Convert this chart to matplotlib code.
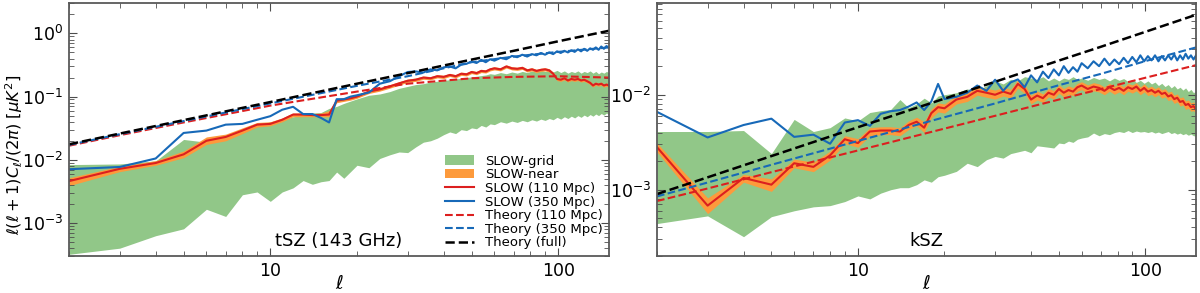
import matplotlib as mpl
mpl.use("Agg")
import matplotlib.pyplot as plt
import numpy as np
from matplotlib.patches import Patch
from matplotlib.lines import Line2D

ell = list(range(2, 21)) + list(range(22, 61, 2)) + list(range(63, 151, 3))
ell_th = [2, 3, 5, 10, 20, 30, 50, 70, 100, 150]

# ---------------- tSZ (143 GHz) ----------------
tsz_grid_lo = [3.2e-4, 4.0e-4, 6.3e-4, 8.1e-4, 1.65e-3, 1.27e-3, 2.8e-3, 3.1e-3, 2.2e-3, 3.1e-3,
               3.6e-3, 4.7e-3, 4.1e-3, 4.5e-3, 4.7e-3, 6.4e-3, 5.1e-3, 6.5e-3, 8.2e-3,
               7.5e-3, 1.05e-2, 1.2e-2, 1.33e-2, 1.3e-2, 1.6e-2, 1.9e-2, 2.0e-2, 2.2e-2, 2.5e-2,
               2.76e-2, 2.6e-2, 3.0e-2, 2.9e-2, 3.2e-2, 3.1e-2, 3.5e-2, 3.3e-2, 3.7e-2, 3.6e-2,
               4.0e-2, 3.8e-2, 4.1e-2, 3.9e-2, 4.2e-2, 4.0e-2, 4.3e-2, 4.1e-2, 4.4e-2, 4.2e-2,
               4.5e-2, 4.3e-2, 4.7e-2, 4.4e-2, 4.8e-2, 4.5e-2, 4.9e-2, 4.6e-2, 5.0e-2, 4.7e-2,
               5.1e-2, 4.8e-2, 5.2e-2, 4.9e-2, 5.3e-2, 5.0e-2, 5.4e-2, 5.1e-2, 5.5e-2, 5.2e-2]
tsz_grid_hi = [8.4e-3, 8.6e-3, 9.6e-3, 2.1e-2, 1.9e-2, 2.2e-2, 2.8e-2, 3.4e-2, 4.0e-2, 4.3e-2,
               4.8e-2, 5.0e-2, 5.5e-2, 5.6e-2, 6.5e-2, 7.0e-2, 7.8e-2, 8.5e-2, 9.2e-2,
               1.05e-1, 1.1e-1, 1.2e-1, 1.35e-1, 1.45e-1, 1.55e-1, 1.6e-1, 1.7e-1, 1.75e-1, 1.8e-1,
               1.85e-1, 1.9e-1, 1.95e-1, 2.0e-1, 2.05e-1, 2.1e-1, 2.15e-1, 2.2e-1, 2.3e-1, 2.25e-1,
               2.4e-1, 2.3e-1, 2.45e-1, 2.35e-1, 2.5e-1, 2.4e-1, 2.55e-1, 2.45e-1, 2.6e-1, 2.5e-1,
               2.55e-1, 2.45e-1, 2.6e-1, 2.4e-1, 2.55e-1, 2.35e-1, 2.5e-1, 2.4e-1, 2.55e-1, 2.35e-1,
               2.5e-1, 2.4e-1, 2.55e-1, 2.35e-1, 2.5e-1, 2.3e-1, 2.45e-1, 2.35e-1, 2.5e-1, 2.4e-1]
tsz_near_lo = [3.9e-3, 6.5e-3, 8.2e-3, 1.08e-2, 1.75e-2, 2.0e-2, 2.6e-2, 3.3e-2, 3.45e-2, 4.0e-2,
               4.8e-2, 4.8e-2, 4.8e-2, 4.8e-2, 4.8e-2, 8.0e-2, 8.4e-2, 8.8e-2, 9.4e-2,
               1.12e-1, 1.22e-1, 1.36e-1, 1.52e-1, 1.68e-1, 1.74e-1, 1.88e-1, 1.84e-1, 1.98e-1, 1.93e-1,
               2.08e-1, 1.98e-1, 2.17e-1, 2.12e-1, 2.31e-1, 2.22e-1, 2.4e-1, 2.36e-1, 2.55e-1, 2.64e-1,
               2.55e-1, 2.83e-1, 2.64e-1, 2.6e-1, 2.69e-1, 2.45e-1, 2.55e-1, 2.4e-1, 2.5e-1, 2.55e-1,
               2.45e-1, 2.17e-1, 1.79e-1, 1.74e-1, 1.84e-1, 1.7e-1, 1.79e-1, 1.74e-1, 1.79e-1, 1.7e-1,
               1.74e-1, 1.65e-1, 1.55e-1, 1.41e-1, 1.51e-1, 1.46e-1, 1.51e-1, 1.41e-1, 1.46e-1, 1.41e-1]
tsz_near_hi = [5.2e-3, 7.9e-3, 9.7e-3, 1.38e-2, 2.3e-2, 2.55e-2, 3.2e-2, 3.9e-2, 4.0e-2, 4.6e-2,
               5.5e-2, 5.5e-2, 5.4e-2, 5.5e-2, 6.0e-2, 9.2e-2, 9.6e-2, 1.0e-1, 1.07e-1,
               1.28e-1, 1.39e-1, 1.55e-1, 1.72e-1, 1.9e-1, 1.97e-1, 2.12e-1, 2.07e-1, 2.23e-1, 2.18e-1,
               2.33e-1, 2.23e-1, 2.44e-1, 2.39e-1, 2.6e-1, 2.5e-1, 2.7e-1, 2.65e-1, 2.86e-1, 2.97e-1,
               2.86e-1, 3.18e-1, 2.97e-1, 2.92e-1, 3.02e-1, 2.76e-1, 2.86e-1, 2.7e-1, 2.81e-1, 2.86e-1,
               2.76e-1, 2.44e-1, 2.02e-1, 1.96e-1, 2.07e-1, 1.91e-1, 2.02e-1, 1.96e-1, 2.02e-1, 1.91e-1,
               1.96e-1, 1.86e-1, 1.75e-1, 1.59e-1, 1.7e-1, 1.64e-1, 1.7e-1, 1.59e-1, 1.64e-1, 1.59e-1]
tsz_slow110 = [4.6e-3, 7.2e-3, 8.9e-3, 1.22e-2, 2.0e-2, 2.3e-2, 2.9e-2, 3.6e-2, 3.7e-2, 4.3e-2,
               5.2e-2, 5.2e-2, 5.1e-2, 5.1e-2, 5.2e-2, 8.6e-2, 9.0e-2, 9.4e-2, 1.0e-1,
               1.2e-1, 1.3e-1, 1.45e-1, 1.62e-1, 1.78e-1, 1.85e-1, 2.0e-1, 1.95e-1, 2.1e-1, 2.05e-1,
               2.2e-1, 2.1e-1, 2.3e-1, 2.25e-1, 2.45e-1, 2.35e-1, 2.55e-1, 2.5e-1, 2.7e-1, 2.8e-1,
               2.7e-1, 3.0e-1, 2.8e-1, 2.75e-1, 2.85e-1, 2.6e-1, 2.7e-1, 2.55e-1, 2.65e-1, 2.7e-1,
               2.6e-1, 2.3e-1, 1.9e-1, 1.85e-1, 1.95e-1, 1.8e-1, 1.9e-1, 1.85e-1, 1.9e-1, 1.8e-1,
               1.85e-1, 1.75e-1, 1.65e-1, 1.5e-1, 1.6e-1, 1.55e-1, 1.6e-1, 1.5e-1, 1.55e-1, 1.5e-1]
tsz_slow350 = [7.1e-3, 7.7e-3, 1.05e-2, 2.66e-2, 2.9e-2, 3.6e-2, 3.7e-2, 4.3e-2, 4.9e-2, 6.2e-2,
               6.9e-2, 5.3e-2, 5.3e-2, 4.6e-2, 3.9e-2, 9.1e-2, 9.1e-2, 1.0e-1, 1.05e-1,
               1.16e-1, 1.6e-1, 1.75e-1, 2.1e-1, 2.45e-1, 2.5e-1, 2.4e-1, 2.7e-1, 2.6e-1, 2.9e-1,
               3.0e-1, 2.8e-1, 3.2e-1, 3.3e-1, 3.6e-1, 3.4e-1, 3.8e-1, 3.5e-1, 3.9e-1, 3.7e-1,
               4.1e-1, 3.9e-1, 4.4e-1, 4.2e-1, 4.6e-1, 4.3e-1, 4.7e-1, 4.5e-1, 4.9e-1, 4.6e-1,
               5.0e-1, 4.7e-1, 5.2e-1, 4.9e-1, 5.3e-1, 5.0e-1, 5.4e-1, 5.1e-1, 5.6e-1, 5.2e-1,
               5.7e-1, 5.3e-1, 5.8e-1, 5.5e-1, 6.0e-1, 5.5e-1, 6.2e-1, 5.7e-1, 6.3e-1, 5.9e-1]
tsz_th110 = [0.0167, 0.0245, 0.039, 0.072, 0.12, 0.16, 0.195, 0.205, 0.21, 0.20]
tsz_th350 = [0.0172, 0.0254, 0.041, 0.078, 0.148, 0.21, 0.35, 0.43, 0.51, 0.60]
tsz_thfull = [0.0176, 0.026, 0.0424, 0.082, 0.16, 0.235, 0.385, 0.53, 0.75, 1.10]

# ---------------- kSZ ----------------
ksz_grid_lo = [4.4e-4, 5.3e-4, 3.2e-4, 5.2e-4, 6.0e-4, 6.6e-4, 6.8e-4, 7.5e-4, 8.6e-4, 8.0e-4,
               9.2e-4, 1.0e-3, 1.05e-3, 1.05e-3, 1.13e-3, 1.27e-3, 1.2e-3, 1.37e-3, 1.42e-3,
               1.56e-3, 1.9e-3, 1.75e-3, 2.07e-3, 2.24e-3, 2.15e-3, 2.4e-3, 2.5e-3, 2.6e-3, 2.45e-3,
               2.9e-3, 2.85e-3, 2.8e-3, 2.75e-3, 3.1e-3, 3.05e-3, 3.25e-3, 3.15e-3, 3.4e-3, 3.5e-3,
               3.6e-3, 3.95e-3, 3.7e-3, 3.9e-3, 3.8e-3, 4.0e-3, 4.1e-3, 4.0e-3, 4.2e-3, 4.0e-3,
               4.15e-3, 4.05e-3, 4.1e-3, 4.0e-3, 4.1e-3, 3.95e-3, 4.05e-3, 3.9e-3, 4.0e-3, 4.1e-3,
               3.9e-3, 4.0e-3, 3.85e-3, 3.95e-3, 3.8e-3, 3.9e-3, 3.75e-3, 3.85e-3, 3.7e-3, 3.7e-3]
ksz_grid_hi = [4.1e-3, 4.1e-3, 4.2e-3, 2.4e-3, 5.5e-3, 4.1e-3, 4.5e-3, 5.7e-3, 5.3e-3, 6.5e-3,
               6.8e-3, 7.0e-3, 8.9e-3, 7.3e-3, 8.0e-3, 9.2e-3, 8.2e-3, 9.7e-3, 1.0e-2,
               1.05e-2, 1.15e-2, 1.1e-2, 1.25e-2, 1.4e-2, 1.3e-2, 1.45e-2, 1.4e-2, 1.55e-2, 1.5e-2,
               1.45e-2, 1.55e-2, 1.4e-2, 1.5e-2, 1.4e-2, 1.5e-2, 1.45e-2, 1.55e-2, 1.45e-2, 1.5e-2,
               1.42e-2, 1.52e-2, 1.45e-2, 1.5e-2, 1.4e-2, 1.5e-2, 1.42e-2, 1.48e-2, 1.38e-2, 1.45e-2,
               1.35e-2, 1.42e-2, 1.32e-2, 1.4e-2, 1.3e-2, 1.36e-2, 1.25e-2, 1.32e-2, 1.22e-2, 1.28e-2,
               1.18e-2, 1.25e-2, 1.15e-2, 1.2e-2, 1.12e-2, 1.18e-2, 1.08e-2, 1.14e-2, 1.05e-2, 1.1e-2]
ksz_near_lo = [2.5e-3, 5.6e-4, 1.2e-3, 9.6e-4, 1.7e-3, 1.55e-3, 2.05e-3, 3.05e-3, 2.8e-3, 3.7e-3,
               3.8e-3, 3.8e-3, 3.7e-3, 4.3e-3, 4.7e-3, 4.0e-3, 5.7e-3, 6.6e-3, 6.4e-3,
               8.0e-3, 8.5e-3, 9.9e-3, 9.4e-3, 9.0e-3, 9.7e-3, 9.2e-3, 1.17e-2, 1.03e-2, 8.0e-3,
               8.8e-3, 8.3e-3, 9.5e-3, 9.0e-3, 1.04e-2, 9.5e-3, 1.01e-2, 9.8e-3, 1.09e-2, 1.13e-2,
               1.04e-2, 1.1e-2, 1.07e-2, 1.0e-2, 1.09e-2, 1.01e-2, 1.07e-2, 1.0e-2, 1.09e-2, 1.04e-2,
               1.1e-2, 1.0e-2, 1.07e-2, 9.8e-3, 1.01e-2, 9.5e-3, 1.0e-2, 9.2e-3, 9.5e-3, 8.7e-3,
               8.9e-3, 8.1e-3, 8.4e-3, 7.6e-3, 7.8e-3, 7.0e-3, 7.2e-3, 6.7e-3, 6.8e-3, 6.3e-3]
ksz_near_hi = [3.1e-3, 8.2e-4, 1.45e-3, 1.3e-3, 2.1e-3, 1.95e-3, 2.55e-3, 3.7e-3, 3.45e-3, 4.5e-3,
               4.6e-3, 4.6e-3, 4.5e-3, 5.3e-3, 5.8e-3, 5.2e-3, 7.1e-3, 8.2e-3, 8.0e-3,
               9.9e-3, 1.06e-2, 1.22e-2, 1.17e-2, 1.12e-2, 1.2e-2, 1.14e-2, 1.44e-2, 1.28e-2, 9.9e-3,
               1.09e-2, 1.02e-2, 1.16e-2, 1.11e-2, 1.27e-2, 1.16e-2, 1.24e-2, 1.19e-2, 1.32e-2, 1.37e-2,
               1.27e-2, 1.34e-2, 1.3e-2, 1.21e-2, 1.32e-2, 1.23e-2, 1.3e-2, 1.21e-2, 1.32e-2, 1.27e-2,
               1.34e-2, 1.21e-2, 1.3e-2, 1.19e-2, 1.23e-2, 1.16e-2, 1.21e-2, 1.12e-2, 1.16e-2, 1.06e-2,
               1.09e-2, 9.9e-3, 1.02e-2, 9.3e-3, 9.5e-3, 8.6e-3, 8.8e-3, 8.2e-3, 8.4e-3, 7.7e-3]
ksz_slow110 = [2.8e-3, 6.8e-4, 1.33e-3, 1.13e-3, 1.9e-3, 1.74e-3, 2.3e-3, 3.4e-3, 3.1e-3, 4.1e-3,
               4.2e-3, 4.2e-3, 4.1e-3, 4.8e-3, 5.2e-3, 4.5e-3, 6.4e-3, 7.4e-3, 7.2e-3,
               8.9e-3, 9.5e-3, 1.1e-2, 1.05e-2, 1.0e-2, 1.08e-2, 1.02e-2, 1.3e-2, 1.15e-2, 8.9e-3,
               9.8e-3, 9.2e-3, 1.05e-2, 1.0e-2, 1.15e-2, 1.05e-2, 1.12e-2, 1.08e-2, 1.2e-2, 1.25e-2,
               1.15e-2, 1.22e-2, 1.18e-2, 1.1e-2, 1.2e-2, 1.12e-2, 1.18e-2, 1.1e-2, 1.2e-2, 1.15e-2,
               1.22e-2, 1.1e-2, 1.18e-2, 1.08e-2, 1.12e-2, 1.05e-2, 1.1e-2, 1.02e-2, 1.05e-2, 9.6e-3,
               9.9e-3, 9.0e-3, 9.3e-3, 8.4e-3, 8.6e-3, 7.8e-3, 8.0e-3, 7.4e-3, 7.6e-3, 7.0e-3]
ksz_slow350 = [6.6e-3, 3.55e-3, 4.8e-3, 5.6e-3, 3.6e-3, 3.8e-3, 3.05e-3, 5.1e-3, 5.4e-3, 4.7e-3,
               6.3e-3, 6.7e-3, 6.9e-3, 7.5e-3, 8.3e-3, 6.9e-3, 8.5e-3, 1.3e-2, 9.0e-3,
               9.5e-3, 1.05e-2, 1.25e-2, 1.1e-2, 1.44e-2, 1.1e-2, 1.35e-2, 1.45e-2, 1.2e-2, 1.6e-2,
               1.35e-2, 1.75e-2, 1.5e-2, 1.85e-2, 1.6e-2, 2.0e-2, 1.7e-2, 1.95e-2, 1.75e-2, 2.15e-2,
               1.9e-2, 2.25e-2, 2.0e-2, 2.4e-2, 2.05e-2, 2.35e-2, 2.1e-2, 2.45e-2, 2.15e-2, 2.5e-2,
               2.2e-2, 2.6e-2, 2.25e-2, 2.55e-2, 2.3e-2, 2.6e-2, 2.25e-2, 2.55e-2, 2.3e-2, 2.6e-2,
               2.35e-2, 2.65e-2, 2.3e-2, 2.6e-2, 2.35e-2, 2.7e-2, 2.4e-2, 2.6e-2, 2.35e-2, 2.6e-2]
ksz_th110 = [7.6e-4, 1.03e-3, 1.53e-3, 2.59e-3, 4.4e-3, 6.0e-3, 8.9e-3, 1.15e-2, 1.51e-2, 2.05e-2]
ksz_th350 = [8.5e-4, 1.19e-3, 1.83e-3, 3.26e-3, 5.8e-3, 8.1e-3, 1.26e-2, 1.66e-2, 2.26e-2, 3.15e-2]
ksz_thfull = [9.0e-4, 1.35e-3, 2.26e-3, 4.55e-3, 9.1e-3, 1.37e-2, 2.29e-2, 3.2e-2, 4.6e-2, 6.95e-2]

c_grid = '#91c788'
c_near = '#fd9a3c'
c_red = '#dc1f1f'
c_blue = '#1769b8'

fig = plt.figure(figsize=(12, 2.93), dpi=100)
ax1 = fig.add_axes([0.0575, 0.126, 0.45, 0.863])
ax2 = fig.add_axes([0.5475, 0.126, 0.4492, 0.863])

panels = [
    (ax1, tsz_grid_lo, tsz_grid_hi, tsz_near_lo, tsz_near_hi, tsz_slow110, tsz_slow350,
     tsz_th110, tsz_th350, tsz_thfull, 'tSZ (143 GHz)', (3e-4, 3.0)),
    (ax2, ksz_grid_lo, ksz_grid_hi, ksz_near_lo, ksz_near_hi, ksz_slow110, ksz_slow350,
     ksz_th110, ksz_th350, ksz_thfull, 'kSZ', (2e-4, 0.092)),
]

for ax, glo, ghi, nlo, nhi, s110, s350, t110, t350, tfull, name, ylim in panels:
    ax.fill_between(ell, glo, ghi, color=c_grid, lw=0)
    ax.fill_between(ell, nlo, nhi, color=c_near, lw=0)
    ax.plot(ell, s110, color=c_red, lw=1.5)
    ax.plot(ell, s350, color=c_blue, lw=1.5)
    ax.plot(ell_th, t110, color=c_red, ls='--', lw=1.5)
    ax.plot(ell_th, t350, color=c_blue, ls='--', lw=1.5)
    ax.plot(ell_th, tfull, color='k', ls='--', lw=1.8)
    ax.set_xscale('log')
    ax.set_yscale('log')
    ax.set_xlim(2, 150)
    ax.set_ylim(*ylim)
    ax.set_xticks([10, 100])
    ax.set_xticklabels(['10', '100'])
    ax.tick_params(which='both', direction='in', top=True, right=True,
                   labelsize=12.5, color='0.3')
    ax.tick_params(which='major', length=6, pad=4)
    ax.tick_params(which='minor', length=3.5)
    for sp in ax.spines.values():
        sp.set_color('0.35')
        sp.set_linewidth(1.3)
    ax.set_xlabel(r'$\ell$', fontsize=13.5, labelpad=-4)
    ax.text(0.5, 0.04, name, transform=ax.transAxes, ha='center', va='baseline', fontsize=13)

ax1.set_ylabel(r'$\ell(\ell+1)C_\ell/(2\pi)\;[\mu K^2]$', fontsize=11.8)
ax1.yaxis.set_label_coords(-0.081, 0.40)

handles = [
    Patch(color=c_grid, lw=0, label='SLOW-grid'),
    Patch(color=c_near, lw=0, label='SLOW-near'),
    Line2D([], [], color=c_red, lw=1.5, label='SLOW (110 Mpc)'),
    Line2D([], [], color=c_blue, lw=1.5, label='SLOW (350 Mpc)'),
    Line2D([], [], color=c_red, ls='--', lw=1.5, label='Theory (110 Mpc)'),
    Line2D([], [], color=c_blue, ls='--', lw=1.5, label='Theory (350 Mpc)'),
    Line2D([], [], color='k', ls='--', lw=1.8, label='Theory (full)'),
]
ax1.legend(handles=handles, loc='lower right', frameon=False, fontsize=9.5,
           labelspacing=0.05, handlelength=2.2, handletextpad=0.8,
           borderaxespad=0.3, borderpad=0.2)

fig.savefig('out.png', dpi=100)
